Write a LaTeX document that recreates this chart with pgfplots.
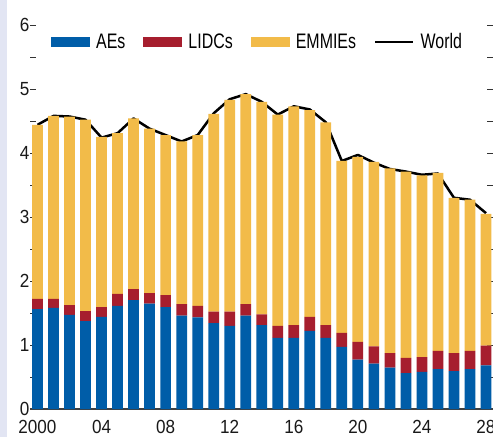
\documentclass[border=0pt]{standalone}
\usepackage{pgfplots}
\pgfplotsset{compat=1.18}
\usepackage{pgfplotstable}
\usepackage{fontspec}
\setmainfont{Liberation Sans}[FakeStretch=0.9]
\newfontfamily\legfont{Liberation Sans}[FakeStretch=0.76]
\definecolor{cAE}{HTML}{005DA8}
\definecolor{cLI}{HTML}{A61E2E}
\definecolor{cEM}{HTML}{F2BB49}
\definecolor{strip}{HTML}{E2E5F3}
\pgfplotstableread{
year AE LIDC EMMIE World
2000 1.56 0.16 2.72 4.44
2001 1.58 0.14 2.86 4.58
2002 1.47 0.155 2.945 4.57
2003 1.375 0.155 2.99 4.52
2004 1.44 0.15 2.66 4.24
2005 1.61 0.19 2.51 4.31
2006 1.70 0.175 2.665 4.54
2007 1.645 0.165 2.57 4.38
2008 1.59 0.19 2.50 4.28
2009 1.46 0.18 2.54 4.18
2010 1.43 0.18 2.67 4.28
2011 1.34 0.18 3.09 4.62
2012 1.30 0.22 3.31 4.84
2013 1.46 0.18 3.28 4.92
2014 1.31 0.17 3.32 4.80
2015 1.11 0.19 3.30 4.60
2016 1.11 0.20 3.42 4.73
2017 1.22 0.22 3.23 4.68
2018 1.11 0.20 3.17 4.48
2019 0.97 0.22 2.685 3.875
2020 0.77 0.28 2.89 3.97
2021 0.71 0.27 2.88 3.85
2022 0.645 0.23 2.885 3.75
2023 0.5625 0.2375 2.91 3.71
2024 0.58 0.23 2.84 3.66
2025 0.625 0.285 2.78 3.68
2026 0.59 0.285 2.425 3.30
2027 0.625 0.285 2.36 3.27
2028 0.68 0.31 2.06 3.06
}\datatable
\begin{document}
\begin{tikzpicture}[x=1pt,y=1pt]
\clip (0,0) rectangle (493,437);
\fill[white] (0,0) rectangle (493,437);
\fill[strip] (0,0) rectangle (7,437);
\begin{axis}[
  at={(33pt,28pt)}, anchor=south west,
  scale only axis, width=457pt, height=384pt,
  xmin=1999.72, xmax=2028.25, ymin=0, ymax=6,
  enlargelimits=false, clip=false,
  ybar stacked, bar width=0.67,
  axis line style={draw=none},
  xtick={2000,2004,...,2028},
  xticklabels={2000,04,08,12,16,20,24,28},
  xtick style={draw=none},
  ytick={0,1,...,6},
  minor ytick={0.5,1.5,...,5.5},
  ytick pos=both, yticklabel pos=left,
  tick align=center,
  major tick length=6pt, minor tick length=6pt,
  every tick/.style={black!80, line width=0.9pt},
  /pgf/number format/assume math mode=true,
  tick label style={font=\fontsize{19}{19}\selectfont, text=black!90},
  yticklabel style={xshift=3pt},
  xticklabel style={yshift=-4.5pt},
  legend columns=4,
  legend cell align=left,
  legend style={at={(axis description cs:0.0394,0.956)}, anchor=west,
    draw=none, fill=none, inner sep=0pt,
    font=\legfont\fontsize{21}{21}\selectfont,
    /tikz/every even column/.append style={column sep=16pt}},
]
\addplot[fill=cAE, draw=none, legend image code/.code={\fill[cAE] (0pt,-5pt) rectangle (39pt,5pt); \path (43pt,0pt);}] table[x=year,y=AE]{\datatable};
\addlegendentry{AEs}
\addplot[fill=cLI, draw=none, legend image code/.code={\fill[cLI] (0pt,-5pt) rectangle (39pt,5pt); \path (43pt,0pt);}] table[x=year,y=LIDC]{\datatable};
\addlegendentry{LIDCs}
\addplot[fill=cEM, draw=none, legend image code/.code={\fill[cEM] (0pt,-5pt) rectangle (39pt,5pt); \path (43pt,0pt);}] table[x=year,y=EMMIE]{\datatable};
\addlegendentry{EMMIEs}
\addplot[sharp plot, stack plots=false, black, line width=2.5pt, line join=round, mark=none,
  legend image code/.code={\draw[black, line width=2.5pt] (0pt,0pt) -- (38pt,0pt); \path (42pt,0pt);}] table[x=year,y=World]{\datatable};
\addlegendentry{World}
\draw[black!75, line width=1.2pt] (axis cs:1999.53,0) -- (axis cs:2028.6,0);
\end{axis}
\end{tikzpicture}
\end{document}
